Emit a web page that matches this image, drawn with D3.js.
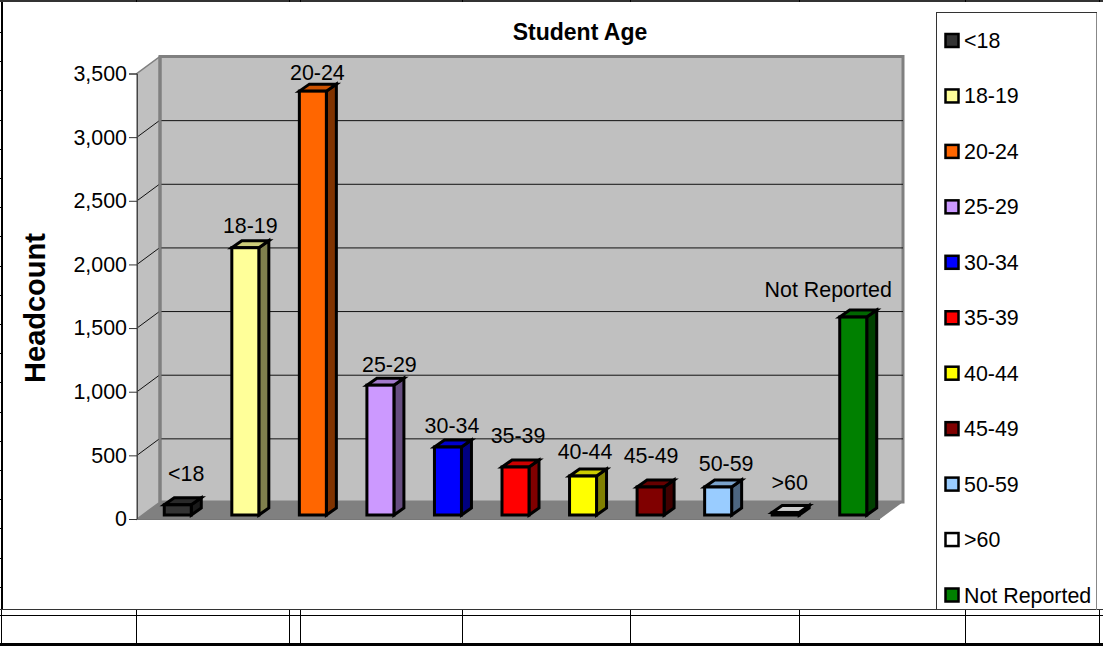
<!DOCTYPE html>
<html><head><meta charset="utf-8">
<script src="https://cdn.jsdelivr.net/npm/d3@7/dist/d3.min.js"></script>
<style>html,body{margin:0;padding:0;background:#fff}svg{display:block}text{font-family:"Liberation Sans",Arial,sans-serif;fill:#000}</style>
</head><body><svg id="c" width="1103" height="649"></svg>
<script>
const categories=["<18","18-19","20-24","25-29","30-34","35-39","40-44","45-49","50-59",">60","Not Reported"];
const headcount=[80,2100,3330,1020,534,377,306,220,220,20,1555];
const fills=["#333333","#ffff99","#ff6600","#cc99ff","#0000ff","#ff0000","#ffff00","#800000","#99ccff","#ffffff","#008000"];
const sides=["#1a1a1a","#80804d","#803300","#664d80","#000080","#800000","#808000","#400000","#4d6680","#808080","#004000"];
const tops=["#292929","#cccc7a","#cc5200","#a37acc","#0000cc","#cc0000","#cccc00","#660000","#7aa3cc","#cccccc","#006600"];
const yTicks=[0,500,1000,1500,2000,2500,3000,3500];
const tableX=[136,289,300,462,630,799,965,1099];
const labelNudgeX=[8.5,5,4.5,9,4,2.5,2,0.5,8,4,-25];
const labelLift=[24,15,11,13,14,24,17,24,16,22.5,20];
const svg=d3.select("#c");
const y=d3.scaleLinear().domain([0,3500]).range([519,73.5]);
const x=d3.scaleBand().domain(categories).range([137,880]).paddingInner(0).paddingOuter(0);
const wallDx=23,wallDy=-17,barDx=10,barDy=-7,barOff=7,barBase=-4,barW=27;
const ink="#000";
svg.append("rect").attr("x",0).attr("y",0).attr("width",1103).attr("height",2).attr("fill","#333");
svg.append("rect").attr("x",1).attr("y",2).attr("width",2).attr("height",608).attr("fill",ink);
svg.selectAll(".topt").data(tableX).join("line").attr("x1",d=>d+.5).attr("x2",d=>d+.5).attr("y1",0).attr("y2",2).attr("stroke",ink);
svg.selectAll(".lt").data(d3.range(32,610,29.2)).join("line").attr("x1",0).attr("x2",1).attr("y1",d=>Math.round(d)+.5).attr("y2",d=>Math.round(d)+.5).attr("stroke",ink);
svg.append("line").attr("x1",0).attr("x2",1103).attr("y1",609.5).attr("y2",609.5).attr("stroke","#333");
svg.append("line").attr("x1",0).attr("x2",1103).attr("y1",615.5).attr("y2",615.5).attr("stroke",ink);
svg.append("rect").attr("x",0).attr("y",643).attr("width",1103).attr("height",3).attr("fill",ink);
svg.selectAll(".bt").data(tableX).join("line").attr("x1",d=>d+.5).attr("x2",d=>d+.5).attr("y1",610).attr("y2",643).attr("stroke",ink);
svg.append("line").attr("x1",1.5).attr("x2",1.5).attr("y1",610).attr("y2",643).attr("stroke",ink);
const x0=137,x1=880,yb=y(0),yt=y(3500);
const pts=a=>a.map(p=>p.join(",")).join(" ");
svg.append("polygon").attr("points",pts([[x0,yb],[x0+wallDx,yb+wallDy],[x1+wallDx,yb+wallDy],[x1,yb]])).attr("fill","#808080");
svg.append("polygon").attr("points",pts([[x0,yb],[x0+wallDx,yb+wallDy],[x0+wallDx,yt+wallDy],[x0,yt]])).attr("fill","#c0c0c0").attr("stroke","#808080").attr("stroke-width",1.5);
svg.append("rect").attr("x",x0+wallDx).attr("y",yt+wallDy).attr("width",x1-x0).attr("height",yb-yt).attr("fill","#c0c0c0").attr("stroke","#808080").attr("stroke-width",3);
yTicks.slice(1,-1).forEach(v=>{
  svg.append("line").attr("x1",x0).attr("y1",y(v)).attr("x2",x0+wallDx).attr("y2",y(v)+wallDy).attr("stroke","#111");
  svg.append("line").attr("x1",x0+wallDx).attr("y1",y(v)+wallDy+.5).attr("x2",x1+wallDx).attr("y2",y(v)+wallDy+.5).attr("stroke","#111");
});
svg.append("line").attr("x1",x0+wallDx).attr("y1",yb+wallDy).attr("x2",x0+wallDx).attr("y2",yt+wallDy).attr("stroke","#808080").attr("stroke-width",3);
const ax=svg.append("g").attr("transform",`translate(${x0},0)`).call(d3.axisLeft(y).tickValues(yTicks).tickFormat(d3.format(",")).tickSize(8).tickPadding(2));
ax.select(".domain").attr("stroke","#444").attr("stroke-width",1);
ax.selectAll(".tick line").attr("stroke","#333");
ax.selectAll("text").style("font-size","21.4px").attr("fill","#000");
svg.append("line").attr("x1",x0).attr("x2",x1).attr("y1",yb+.5).attr("y2",yb+.5).attr("stroke","#777");
categories.forEach((c,i)=>{
  const L=x(c)+x.bandwidth()/2+barOff-barW/2,R=L+barW,T=y(headcount[i])+barBase,B=yb+barBase;
  const g=svg.append("g").attr("stroke","#000").attr("stroke-width",3).attr("stroke-linejoin","miter");
  g.append("polygon").attr("points",pts([[R,T],[R+barDx,T+barDy],[R+barDx,B+barDy],[R,B]])).attr("fill",sides[i]);
  g.append("polygon").attr("points",pts([[L,T],[L+barDx,T+barDy],[R+barDx,T+barDy],[R,T]])).attr("fill",tops[i]);
  g.append("rect").attr("x",L).attr("y",T).attr("width",barW).attr("height",B-T).attr("fill",fills[i]);
  svg.append("text").attr("x",L+barW/2+labelNudgeX[i]).attr("y",T-labelLift[i]).attr("text-anchor","middle").style("font-size","21.4px").text(c);
});
svg.append("text").attr("x",580).attr("y",40).attr("text-anchor","middle").style("font-size","23px").style("font-weight","bold").text("Student Age");
svg.append("text").attr("transform","translate(45,308) rotate(-90)").attr("text-anchor","middle").style("font-size","29px").style("font-weight","bold").text("Headcount");
svg.append("rect").attr("x",936.5).attr("y",12.5).attr("width",160).attr("height",597).attr("fill","#fff").attr("stroke","#333");
svg.append("line").attr("x1",1096.5).attr("x2",1096.5).attr("y1",13).attr("y2",610).attr("stroke","#888");
const ly=d3.scaleLinear().domain([0,10]).range([40,594.5]);
categories.forEach((c,i)=>{
  svg.append("rect").attr("x",945.5).attr("y",ly(i)-6).attr("width",13).attr("height",13).attr("fill",fills[i]).attr("stroke","#000").attr("stroke-width",2.5);
  svg.append("text").attr("x",964).attr("y",ly(i)+8).style("font-size","21.4px").text(c);
});
</script></body></html>
